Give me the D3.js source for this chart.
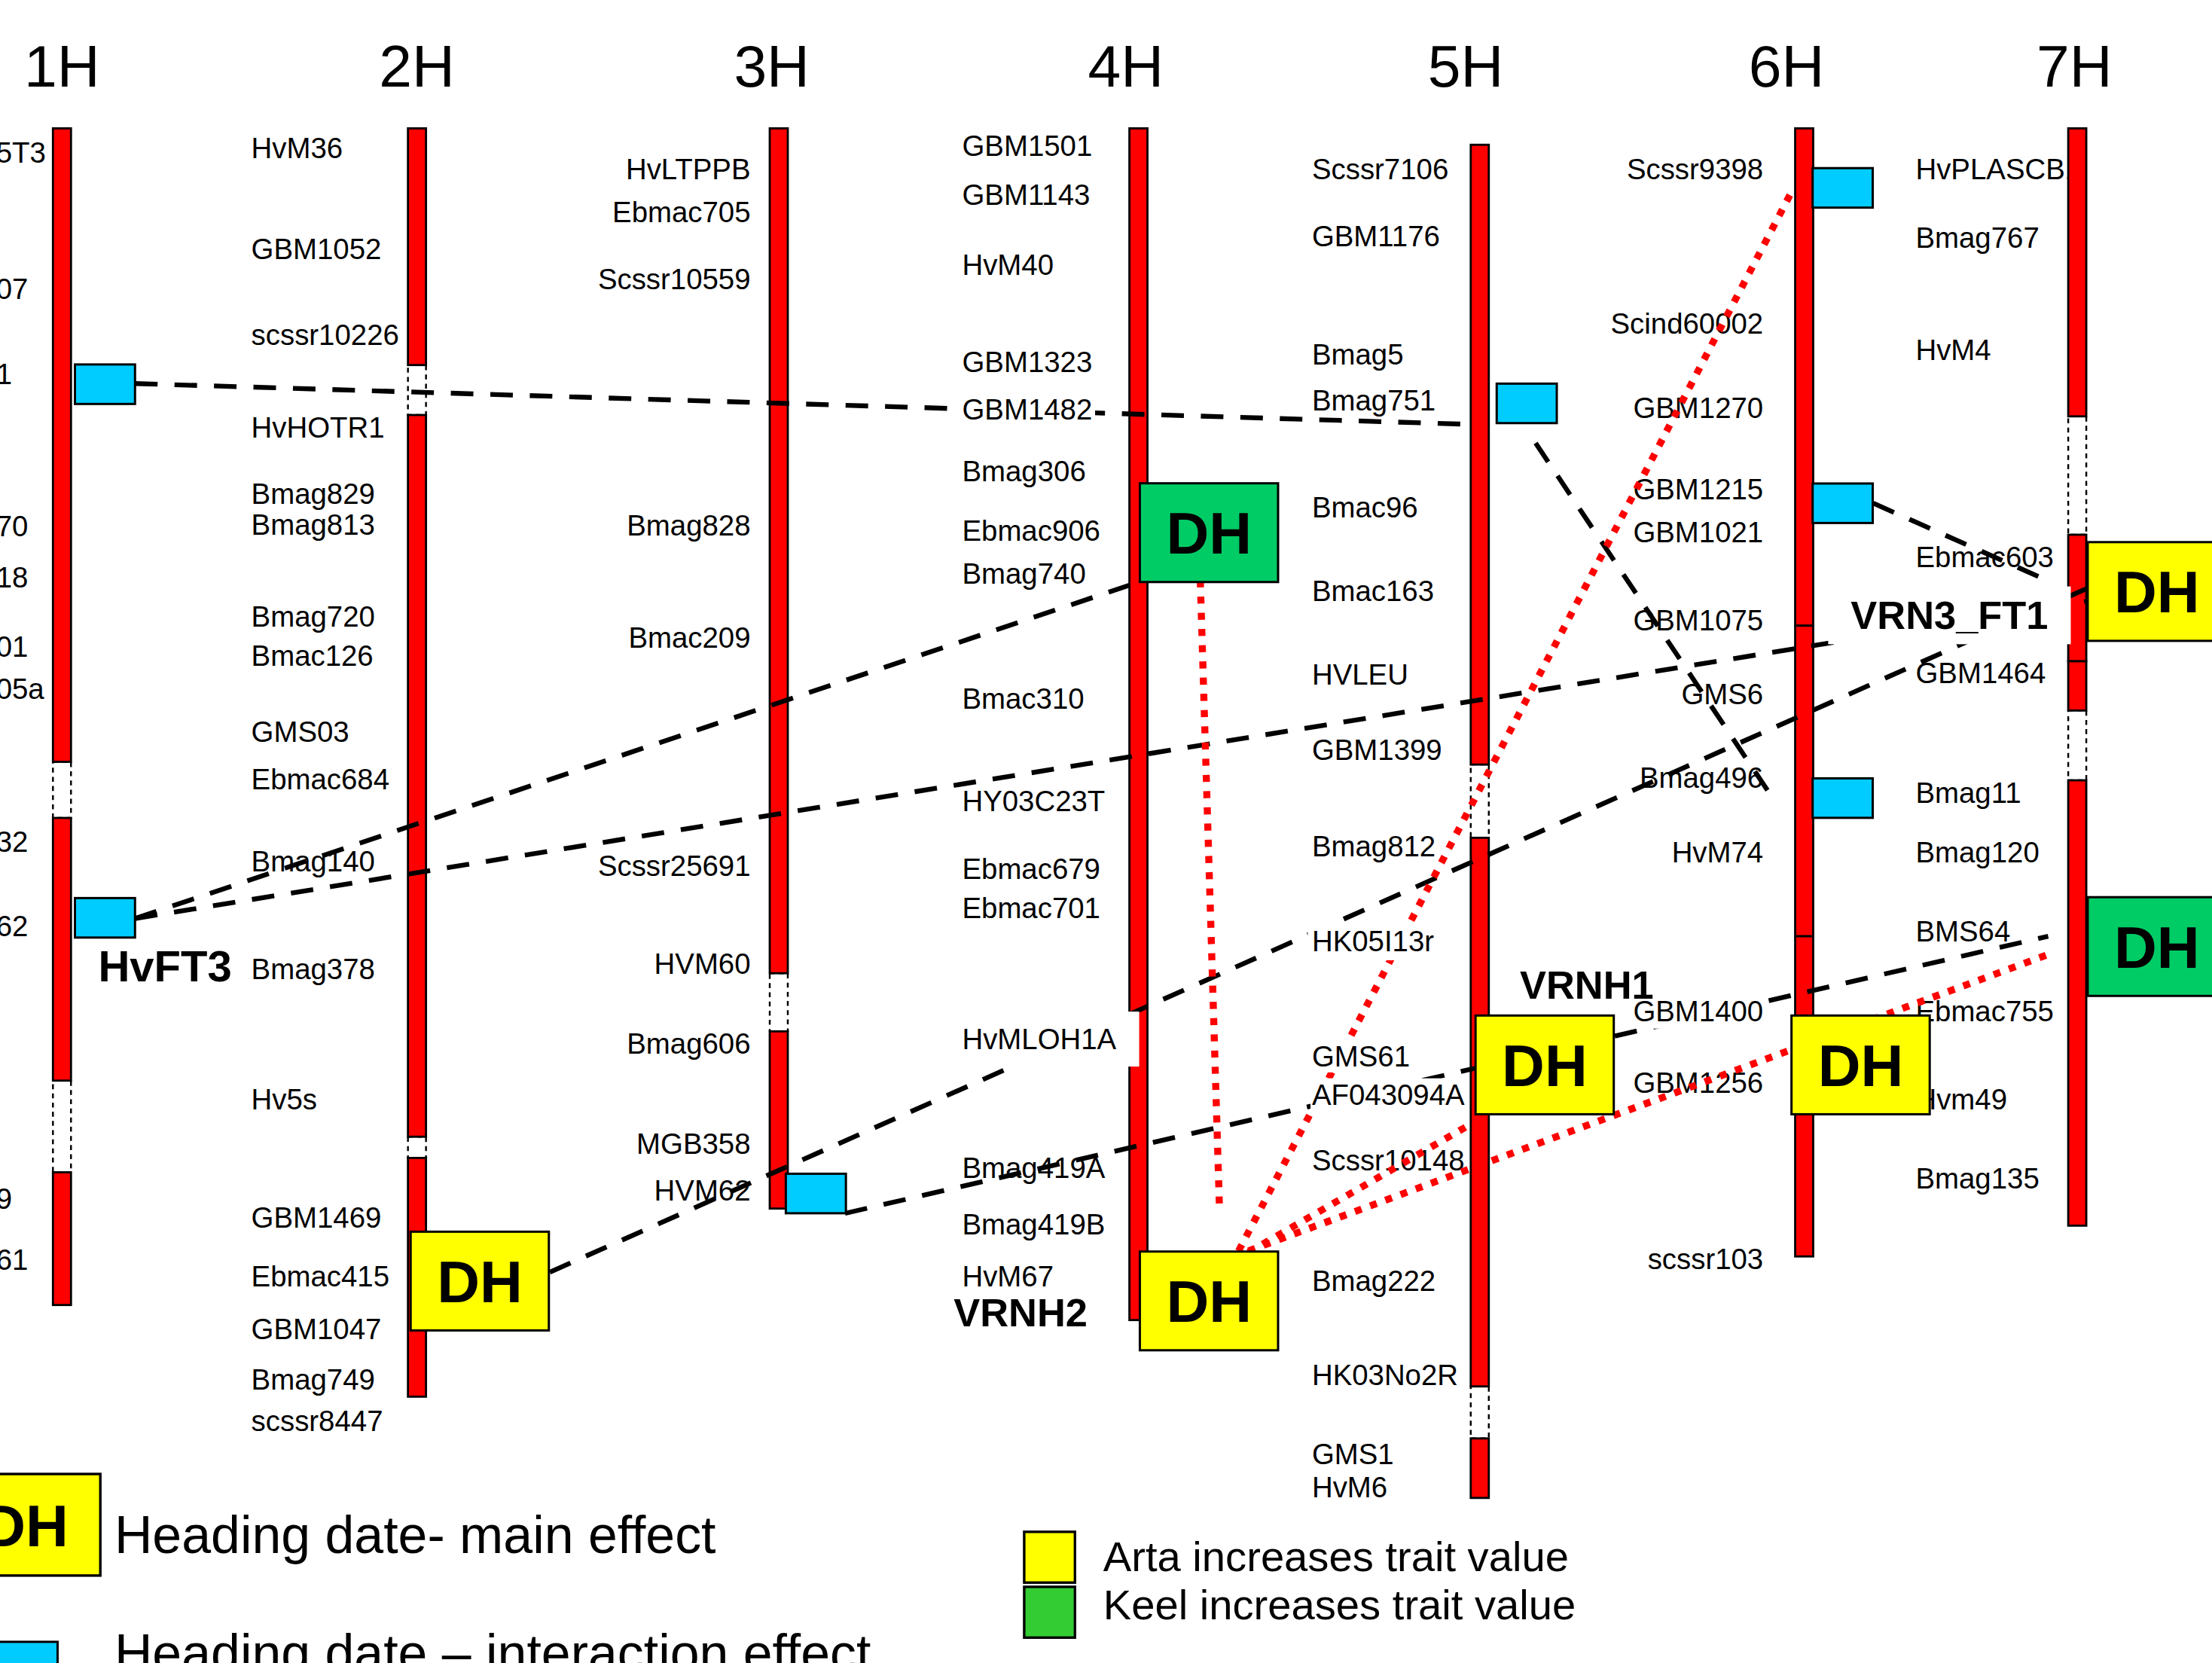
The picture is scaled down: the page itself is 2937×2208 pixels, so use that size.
<!DOCTYPE html>
<html>
<head>
<meta charset="utf-8">
<script src="https://cdn.jsdelivr.net/npm/d3@7"></script>
<style>
html, body { margin: 0; padding: 0; background: #fff; overflow: hidden; }
svg { display: block; font-family: "Liberation Sans", Arial, sans-serif; }
</style>
</head>
<body>
<div id="chart"></div>
<script>
// linkage groups
const chromosomes = ["1H", "2H", "3H", "4H", "5H", "6H", "7H"];

// drawn segments [chr, start cM, end cM]
const segments = [
  ["1H", 0, 92.6], ["1H", 100.8, 139.2], ["1H", 152.6, 172.0],
  ["2H", 0, 34.6], ["2H", 41.9, 147.4], ["2H", 150.5, 185.4],
  ["3H", 0, 123.5], ["3H", 132.0, 157.9],
  ["4H", 0, 174.2],
  ["5H", 2.4, 93.0], ["5H", 103.7, 183.9], ["5H", 191.5, 200.2],
  ["6H", 0, 72.7], ["6H", 72.7, 118.1], ["6H", 118.1, 164.9],
  ["7H", 0, 42.1], ["7H", 59.4, 77.9], ["7H", 77.9, 85.1], ["7H", 95.3, 160.4]
];

// unlinked gaps, drawn dashed
const gaps = [
  ["1H", 92.6, 100.8], ["1H", 139.2, 152.6],
  ["2H", 34.6, 41.9], ["2H", 147.4, 150.5],
  ["3H", 123.5, 132.0],
  ["5H", 93.0, 103.7], ["5H", 183.9, 191.5],
  ["7H", 42.1, 59.4], ["7H", 85.1, 95.3]
];

// markers [name, cM]  (1H names are cut by the page edge)
const markers1H = [["5T3", 3.5], ["07", 23.4], ["1", 35.9], ["70", 58.1], ["18", 65.6], ["01", 75.7],
  ["05a", 81.9], ["32", 104.2], ["62", 116.6], ["9", 156.4], ["61", 165.3]];
const markers2H = [["HvM36", 2.9], ["GBM1052", 17.6], ["scssr10226", 30.1], ["HvHOTR1", 43.7],
  ["Bmag829", 53.4], ["Bmag813", 57.9], ["Bmag720", 71.3], ["Bmac126", 77.0], ["GMS03", 88.2],
  ["Ebmac684", 95.1], ["Bmag140", 107.1], ["Bmag378", 122.9], ["Hv5s", 141.9], ["GBM1469", 159.2],
  ["Ebmac415", 167.8], ["GBM1047", 175.5], ["Bmag749", 182.9], ["scssr8447", 188.9]];
const markers3H = [["HvLTPPB", 5.9], ["Ebmac705", 12.2], ["Scssr10559", 22.0], ["Bmag828", 58.0],
  ["Bmac209", 74.4], ["Scssr25691", 107.8], ["HVM60", 122.1], ["Bmag606", 133.8], ["MGB358", 148.4],
  ["HVM62", 155.2]];
const markers4H = [["GBM1501", 2.5], ["GBM1143", 9.7], ["HvM40", 19.9], ["GBM1323", 34.1],
  ["GBM1482", 41.1], ["Bmag306", 50.1], ["Ebmac906", 58.8], ["Bmag740", 65.0], ["Bmac310", 83.3],
  ["HY03C23T", 98.3], ["Ebmac679", 108.2], ["Ebmac701", 113.9], ["HvMLOH1A", 133.1],
  ["Bmag419A", 151.9], ["Bmag419B", 160.2], ["HvM67", 167.8]];
const markers5H = [["Scssr7106", 5.9], ["GBM1176", 15.7], ["Bmag5", 33.0], ["Bmag751", 39.7],
  ["Bmac96", 55.4], ["Bmac163", 67.6], ["HVLEU", 79.8], ["GBM1399", 90.8], ["Bmag812", 104.9],
  ["HK05I13r", 118.8], ["GMS61", 135.6], ["AF043094A", 141.2], ["Scssr10148", 150.8],
  ["Bmag222", 168.4], ["HK03No2R", 182.2], ["GMS1", 193.8], ["HvM6", 198.6]];
const markers6H = [["Scssr9398", 5.9], ["Scind60002", 28.5], ["GBM1270", 40.8], ["GBM1215", 52.7],
  ["GBM1021", 59.0], ["GBM1075", 71.9], ["GMS6", 82.7], ["Bmag496", 94.9], ["HvM74", 105.8],
  ["GBM1400", 129.0], ["GBM1256", 139.5], ["scssr103", 165.2]];
const markers7H = [["HvPLASCB1", 5.9], ["Bmag767", 16.0], ["HvM4", 32.4], ["Ebmac603", 62.6],
  ["GBM1464", 79.6], ["Bmag11", 97.1], ["Bmag120", 105.8], ["BMS64", 117.3], ["Ebmac755", 129.0],
  ["Hvm49", 141.9], ["Bmag135", 153.5]];

// candidate genes [name, chr, cM]
const genes = [["HvFT3", "1H", 122.4], ["VRNH2", "4H", 173.0], ["VRNH1", "5H", 125.2], ["VRN3_FT1", "7H", 71.1]];

// QTL [chr, cM, effect type, parent increasing trait]
const qtls = [
  ["1H", 37.4, "interaction", null], ["1H", 115.4, "interaction", null],
  ["2H", 168.5, "main", "Arta"],
  ["3H", 155.7, "interaction", null],
  ["4H", 59.1, "main", "Keel"], ["4H", 171.4, "main", "Arta"],
  ["5H", 40.2, "interaction", null], ["5H", 136.9, "main", "Arta"],
  ["6H", 8.7, "interaction", null], ["6H", 54.8, "interaction", null], ["6H", 97.9, "interaction", null],
  ["6H", 136.9, "main", "Arta"],
  ["7H", 67.7, "main", "Arta"], ["7H", 119.6, "main", "Keel"]
];

// links between effects: ends are [chr, cM, px offset from the chromosome]
const dashedLinks = [
  [["1H", 37.3, 51.8], ["5H", 43.3, -2]],
  [["5H", 46.0, 39.6], ["6H", 97.7, -23]],
  [["1H", 115.5, 51.8], ["4H", 66.2, 2]],
  [["1H", 115.5, 51.8], ["7H", 69.1, 7.4]],
  [["2H", 167.2, 94.2], ["7H", 67.2, 7.4]],
  [["3H", 158.6, 47], ["7H", 118.1, -20.6]],
  [["6H", 54.8, 49], ["7H", 65.6, -26.6]]
];
const dottedLinks = [
  [["4H", 63.7, 43.5], ["4H", 158.2, 57.5]],
  [["4H", 164.1, 71], ["6H", 9.7, -10]],
  [["4H", 164.3, 78], ["5H", 145.4, -5]],
  [["4H", 164.1, 78], ["7H", 120.6, -18.6]]
];

// ---- layout ----
const barW = 12.8;
const labelSize = 20.5, capShift = 0.358 * labelSize;
const chromX = [43.8, 295.5, 552, 807, 1049, 1279, 1472.6];
const titleDx = { "1H": 0, "2H": 0, "3H": -5, "4H": -9, "5H": -10, "6H": -12.5, "7H": -2 };
const labelLayout = { "1H": ["start", -46.8], "2H": ["start", -117.5], "3H": ["end", -20],
  "4H": ["start", -125], "5H": ["start", -119], "6H": ["end", -29], "7H": ["start", -114.6] };
const mainDx = { "2H": -4.5, "4H": 1, "5H": -3, "6H": -9, "7H": 7.4 };
const intDx = { "1H": 9.2, "3H": 5, "5H": 12, "6H": 6 };
const geneLayout = { HvFT3: ["start", 25.7, 31], VRNH2: ["start", -131, 28],
  VRNH1: ["start", 28.4, 28], VRN3_FT1: ["end", -20.6, 28] };
// labels sitting on a white text box [padX, padY]
const opaquePad = { HvMLOH1A: [16, 8], GBM1400: [2, 1], HK05I13r: [3, 2], VRN3_FT1: [16, 5],
  GBM1482: [2, 0], GMS61: [1, 0], AF043094A: [1, 0] };
const fills = { Arta: "#ffff00", Keel: "#00cc66", interaction: "#00ccff" };

const x = d3.scaleOrdinal().domain(chromosomes).range(chromX);
const y = d3.scaleLinear().domain([0, 200]).range([91, 1061]);
const pt = e => [x(e[0]) + e[2], y(e[1])];

const svg = d3.select("#chart").append("svg")
  .attr("width", 2937).attr("height", 2208)
  .attr("viewBox", "0 0 1568 1179");
svg.append("rect").attr("width", 1568).attr("height", 1179).attr("fill", "#fff");

const markerLists = { "1H": markers1H, "2H": markers2H, "3H": markers3H, "4H": markers4H,
  "5H": markers5H, "6H": markers6H, "7H": markers7H };
const allMarkers = chromosomes.flatMap(c => markerLists[c].map(([name, cM]) => ({ chr: c, name, cM })));

function placeMarker(sel) {
  sel.attr("x", d => x(d.chr) + labelLayout[d.chr][1])
    .attr("y", d => y(d.cM) + capShift)
    .attr("text-anchor", d => labelLayout[d.chr][0])
    .attr("font-size", labelSize)
    .text(d => d.name);
}

// plain marker labels (under the bars and lines)
svg.append("g").selectAll("text")
  .data(allMarkers.filter(d => !(d.name in opaquePad)))
  .join("text").call(placeMarker);

// chromosome bars
svg.append("g").selectAll("rect").data(gaps).join("rect")
  .attr("x", d => x(d[0]) - barW / 2).attr("y", d => y(d[1]))
  .attr("width", barW).attr("height", d => y(d[2]) - y(d[1]))
  .attr("fill", "#fff").attr("stroke", "#000").attr("stroke-width", 1.3)
  .attr("stroke-dasharray", "3.5 3");
svg.append("g").selectAll("rect").data(segments).join("rect")
  .attr("x", d => x(d[0]) - barW / 2).attr("y", d => y(d[1]))
  .attr("width", barW).attr("height", d => y(d[2]) - y(d[1]))
  .attr("fill", "#ff0000").attr("stroke", "#000").attr("stroke-width", 1.5);

// links
svg.append("g").selectAll("line").data(dashedLinks).join("line")
  .attr("x1", d => pt(d[0])[0]).attr("y1", d => pt(d[0])[1])
  .attr("x2", d => pt(d[1])[0]).attr("y2", d => pt(d[1])[1])
  .attr("stroke", "#000").attr("stroke-width", 3.4).attr("stroke-dasharray", "16 12");
svg.append("g").selectAll("line").data(dottedLinks).join("line")
  .attr("x1", d => pt(d[0])[0]).attr("y1", d => pt(d[0])[1])
  .attr("x2", d => pt(d[1])[0]).attr("y2", d => pt(d[1])[1])
  .attr("stroke", "#ff0000").attr("stroke-width", 5).attr("stroke-dasharray", "5 6.5");

// QTL boxes
const boxW = d => d[2] === "main" ? 98 : 42.6;
const boxH = d => d[2] === "main" ? 70 : 28;
const boxX = d => x(d[0]) + (d[2] === "main" ? mainDx[d[0]] : intDx[d[0]]);
const gq = svg.append("g");
gq.selectAll("rect").data(qtls).join("rect")
  .attr("x", boxX).attr("y", d => y(d[1]) - boxH(d) / 2)
  .attr("width", boxW).attr("height", boxH)
  .attr("fill", d => d[2] === "main" ? fills[d[3]] : fills.interaction)
  .attr("stroke", "#000").attr("stroke-width", 1.6);
gq.selectAll("text").data(qtls.filter(d => d[2] === "main")).join("text")
  .attr("x", d => boxX(d) + 49).attr("y", d => y(d[1]) + 15)
  .attr("text-anchor", "middle").attr("font-size", 42).attr("font-weight", "bold")
  .text("DH");

// labels on white text boxes
function backdrop(g, pad) {
  const b = g.select("text").node().getBBox();
  g.insert("rect", "text").attr("x", b.x - pad[0]).attr("y", b.y - pad[1])
    .attr("width", b.width + 2 * pad[0]).attr("height", b.height + 2 * pad[1]).attr("fill", "#fff");
}
allMarkers.filter(d => d.name in opaquePad).forEach(d => {
  const g = svg.append("g");
  g.append("text").datum(d).call(placeMarker);
  backdrop(g, opaquePad[d.name]);
});

// gene names
genes.forEach(([name, chr, cM]) => {
  const [anchor, dx, size] = geneLayout[name];
  const g = svg.append("g");
  g.append("text").attr("x", x(chr) + dx).attr("y", y(cM) + 0.358 * size)
    .attr("text-anchor", anchor).attr("font-size", size).attr("font-weight", "bold").text(name);
  if (name in opaquePad) backdrop(g, opaquePad[name]);
});

// chromosome titles
svg.append("g").selectAll("text").data(chromosomes).join("text")
  .attr("x", d => x(d) + titleDx[d]).attr("y", 61.5)
  .attr("text-anchor", "middle").attr("font-size", 42).text(d => d);

// legends
const lg = svg.append("g");
lg.append("rect").attr("x", -28).attr("y", 1045).attr("width", 99).attr("height", 72)
  .attr("fill", fills.Arta).attr("stroke", "#000").attr("stroke-width", 1.8);
lg.append("text").attr("x", 18).attr("y", 1096).attr("text-anchor", "middle")
  .attr("font-size", 42).attr("font-weight", "bold").text("DH");
lg.append("text").attr("x", 81).attr("y", 1101).attr("font-size", 37.3).text("Heading date- main effect");
lg.append("rect").attr("x", -10).attr("y", 1164).attr("width", 50.7).attr("height", 28)
  .attr("fill", fills.interaction).attr("stroke", "#000").attr("stroke-width", 1.6);
lg.append("text").attr("x", 81).attr("y", 1185).attr("font-size", 37.3).text("Heading date \u2013 interaction effect");

lg.append("rect").attr("x", 726).attr("y", 1086).attr("width", 36).attr("height", 36)
  .attr("fill", fills.Arta).attr("stroke", "#000").attr("stroke-width", 1.8);
lg.append("rect").attr("x", 726).attr("y", 1125).attr("width", 36).attr("height", 36)
  .attr("fill", "#33cc33").attr("stroke", "#000").attr("stroke-width", 1.8);
lg.append("text").attr("x", 782).attr("y", 1114).attr("font-size", 30).text("Arta increases trait value");
lg.append("text").attr("x", 782).attr("y", 1148).attr("font-size", 30).text("Keel increases trait value");
</script>
</body>
</html>
